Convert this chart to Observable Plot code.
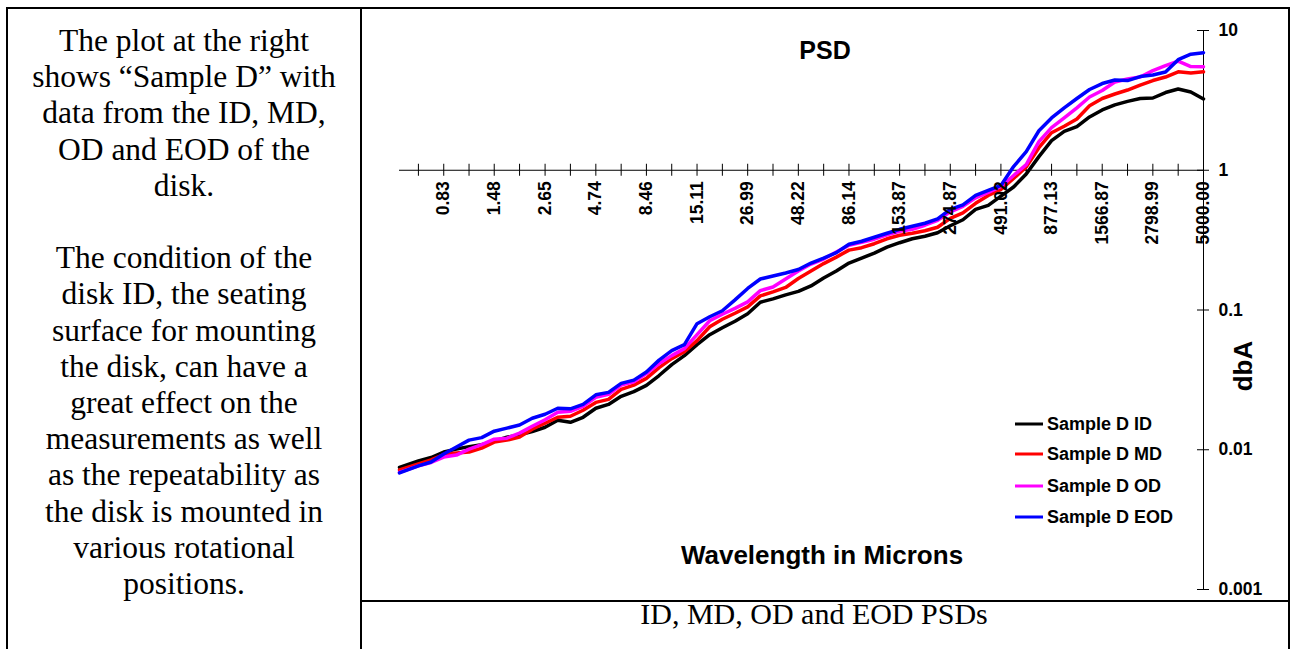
<!DOCTYPE html>
<html><head><meta charset="utf-8">
<script src="https://cdn.jsdelivr.net/npm/d3@7"></script>
<script src="https://cdn.jsdelivr.net/npm/@observablehq/plot@0.6"></script>
<style>
body{margin:0;background:#fff;}
#page{position:relative;width:1291px;height:649px;overflow:hidden;background:#fff;}
.ln{position:absolute;background:#000;}
#left{position:absolute;left:29px;width:310px;top:23px;text-align:center;font-family:"Liberation Serif","Times New Roman",serif;font-size:31.5px;line-height:36.2px;color:#000;}
#left p{margin:0 0 36.2px 0;}
#caption{position:absolute;left:600px;width:428px;top:600px;text-align:center;font-family:"Liberation Serif","Times New Roman",serif;font-size:30px;line-height:28px;color:#000;}
#chart{position:absolute;left:361px;top:8px;}
.lab{position:absolute;font-family:"Liberation Sans",Arial,sans-serif;font-weight:bold;color:#000;white-space:nowrap;transform:translate(-50%,-50%);}
.leg{position:absolute;left:1015px;font-family:"Liberation Sans",Arial,sans-serif;font-weight:bold;font-size:18px;white-space:nowrap;display:flex;align-items:center;transform:translateY(-50%);}
.leg span.sw{display:inline-block;width:28px;height:3.5px;margin-right:4px;}
</style></head>
<body>
<div id="page">
  <div class="ln" style="left:6px;top:7px;width:1284px;height:2px;"></div>
  <div class="ln" style="left:6px;top:7px;width:2px;height:642px;"></div>
  <div class="ln" style="left:1288px;top:7px;width:2px;height:642px;"></div>
  <div class="ln" style="left:360px;top:7px;width:2px;height:642px;"></div>
  <div class="ln" style="left:360px;top:600px;width:930px;height:2px;"></div>
  <div id="left">
    <p>The plot at the right shows “Sample D” with data from the ID, MD, OD and EOD of the disk.</p>
    <p>The condition of the disk ID, the seating surface for mounting the disk, can have a great effect on the measurements as well as the repeatability as the disk is mounted in various rotational positions.</p>
  </div>
  <div id="caption">ID, MD, OD and EOD PSDs</div>
  <div id="chart"></div>
  <div class="lab" style="left:825px;top:50px;font-size:25px;">PSD</div>
  <div class="lab" style="left:822px;top:555px;font-size:26px;">Wavelength in Microns</div>
  <div class="lab" style="left:1243px;top:366px;font-size:26px;transform:translate(-50%,-50%) rotate(-90deg);">dbA</div>
  <div id="legend"></div>
</div>
<script>
// wavelength (microns) of each sampled point
const wavelengths = [0.5, 0.621, 0.718, 0.83, 0.96, 1.109, 1.282, 1.48, 1.711, 1.978, 2.287, 2.65, 3.064, 3.542, 4.095, 4.74, 5.48, 6.335, 7.324, 8.46, 9.781, 11.307, 13.072, 15.11, 17.468, 20.195, 23.347, 26.99, 31.203, 36.073, 41.703, 48.22, 55.746, 64.447, 74.506, 86.14, 99.585, 115.13, 133.1, 153.87, 177.89, 205.65, 237.75, 274.87, 317.77, 367.37, 424.71, 491.02, 567.66, 656.26, 758.69, 877.13, 1014, 1172.3, 1355.3, 1566.87, 1811.4, 2094.2, 2421, 2798.99, 3235.8, 3740.9, 4324.7, 5000];

const sampleID = [0.00747, 0.00831, 0.0088, 0.00963, 0.01011, 0.01053, 0.01088, 0.01153, 0.01231, 0.01278, 0.01347, 0.01449, 0.01626, 0.01573, 0.01708, 0.0198, 0.02111, 0.02411, 0.02605, 0.02888, 0.03396, 0.04069, 0.04716, 0.05655, 0.0666, 0.0747, 0.0831, 0.094, 0.1137, 0.1201, 0.1282, 0.1358, 0.1486, 0.1694, 0.1901, 0.2167, 0.2352, 0.2554, 0.2815, 0.303, 0.3234, 0.337, 0.3568, 0.4008, 0.4423, 0.525, 0.561, 0.653, 0.759, 0.94, 1.252, 1.627, 1.896, 2.05, 2.407, 2.7, 2.939, 3.112, 3.261, 3.288, 3.599, 3.813, 3.629, 3.235];

const sampleMD = [0.00717, 0.00791, 0.00845, 0.00924, 0.00947, 0.00963, 0.01028, 0.01134, 0.01172, 0.01231, 0.01404, 0.01548, 0.01708, 0.01736, 0.01916, 0.02182, 0.02292, 0.02705, 0.02902, 0.0324, 0.03873, 0.0449, 0.05036, 0.06038, 0.07594, 0.08589, 0.09474, 0.1053, 0.1261, 0.1347, 0.145, 0.168, 0.1901, 0.2149, 0.2391, 0.2683, 0.2791, 0.2981, 0.3234, 0.3425, 0.354, 0.3688, 0.3911, 0.4529, 0.4956, 0.5796, 0.6606, 0.729, 0.873, 1.054, 1.45, 1.856, 2.067, 2.329, 2.891, 3.261, 3.512, 3.75, 4.072, 4.384, 4.644, 5.066, 4.959, 5.066];

const sampleOD = [0.00688, 0.00766, 0.00811, 0.00887, 0.00916, 0.01011, 0.01088, 0.01191, 0.01211, 0.01315, 0.01473, 0.01639, 0.01854, 0.01885, 0.02043, 0.02372, 0.02492, 0.02902, 0.03059, 0.0351, 0.04136, 0.04716, 0.0529, 0.0666, 0.0838, 0.0932, 0.1027, 0.1143, 0.1376, 0.1462, 0.1667, 0.1901, 0.2132, 0.2314, 0.2596, 0.2909, 0.3056, 0.321, 0.3454, 0.3658, 0.378, 0.4042, 0.4387, 0.5038, 0.5518, 0.634, 0.694, 0.7657, 0.9171, 1.098, 1.601, 2.017, 2.368, 2.797, 3.343, 3.719, 4.277, 4.494, 4.644, 5.167, 5.61, 6.04, 5.519, 5.5];

const sampleEOD = [0.00683, 0.00766, 0.00817, 0.00932, 0.01045, 0.01172, 0.01221, 0.01358, 0.01427, 0.01505, 0.0168, 0.01794, 0.0198, 0.01964, 0.02111, 0.02472, 0.02575, 0.02985, 0.0315, 0.03597, 0.0438, 0.05119, 0.05655, 0.07978, 0.08944, 0.09871, 0.1181, 0.1426, 0.1667, 0.1751, 0.1839, 0.1948, 0.2167, 0.2352, 0.2574, 0.2957, 0.3106, 0.3315, 0.354, 0.378, 0.3976, 0.4176, 0.4491, 0.525, 0.5656, 0.6606, 0.7171, 0.7784, 1.0625, 1.359, 1.918, 2.368, 2.797, 3.261, 3.781, 4.172, 4.42, 4.384, 4.683, 4.799, 5.042, 6.185, 6.77, 6.939];

const seriesNames = ["Sample D ID", "Sample D MD", "Sample D OD", "Sample D EOD"];
const seriesColors = ["#000000", "#ff0000", "#ff00ff", "#0000ff"];

// labelled x ticks and the unlabelled ticks between them
const xTickLabels = [0.83, 1.48, 2.65, 4.74, 8.46, 15.11, 26.99, 48.22, 86.14, 153.87, 274.87, 491.02, 877.13, 1566.87, 2798.99, 5000.00];
const xMinorTicks = [0.621, 1.109, 1.978, 3.542, 6.335, 11.307, 20.195, 36.073, 64.447, 115.13, 205.65, 367.37, 656.26, 1172.3, 2094.2, 3740.9];
const yTicks = [0.001, 0.01, 0.1, 1, 10];
const yTickLabels = ["0.001", "0.01", "0.1", "1", "10"];

const allSeries = [sampleID, sampleMD, sampleOD, sampleEOD];
const rows = [];
allSeries.forEach((vals, s) => vals.forEach((v, i) => rows.push({series: seriesNames[s], w: wavelengths[i], v})));

const font = "Liberation Sans, Arial, sans-serif";
const fmt = d3.format(".2f");

const chart = Plot.plot({
  width: 928, height: 605,
  marginLeft: 38, marginRight: 86, marginTop: 22, marginBottom: 24,
  x: {type: "log", domain: [0.5, 5000], axis: null},
  y: {type: "log", domain: [0.001, 10], axis: null},
  color: {domain: seriesNames, range: seriesColors},
  style: {background: "transparent", overflow: "visible"},
  marks: [
    Plot.ruleY([1], {stroke: "#000", strokeWidth: 1}),
    Plot.ruleX([5000], {stroke: "#000", strokeWidth: 1}),
    Plot.ruleX(xTickLabels.concat(xMinorTicks), {x: d => d, y1: 1, y2: 1, insetTop: -6, insetBottom: -6, stroke: "#000", strokeWidth: 1}),
    Plot.ruleY(yTicks, {y: d => d, x1: 5000, x2: 5000, insetLeft: -6, insetRight: -6, stroke: "#000", strokeWidth: 1}),
    Plot.line(rows, {x: "w", y: "v", z: "series", stroke: "series", strokeWidth: 3.5, strokeLinejoin: "round"}),
    Plot.text(xTickLabels, {x: d => d, y: 1, text: d => fmt(d), rotate: -90, textAnchor: "end", dy: 11, fontSize: 17.5, fontWeight: "bold", fontFamily: font, fill: "#000"}),
    Plot.text(yTicks, {x: 5000, y: d => d, text: (d, i) => yTickLabels[i], textAnchor: "start", dx: 15, fontSize: 17.5, fontWeight: "bold", fontFamily: font, fill: "#000"})
  ]
});
document.getElementById("chart").appendChild(chart);

const legendTops = [424, 454, 486, 517];
const legend = document.getElementById("legend");
seriesNames.forEach((n, i) => {
  const d = document.createElement("div");
  d.className = "leg";
  d.style.top = legendTops[i] + "px";
  d.innerHTML = `<span class="sw" style="background:${seriesColors[i]}"></span>${n}`;
  legend.appendChild(d);
});
</script>
</body></html>
